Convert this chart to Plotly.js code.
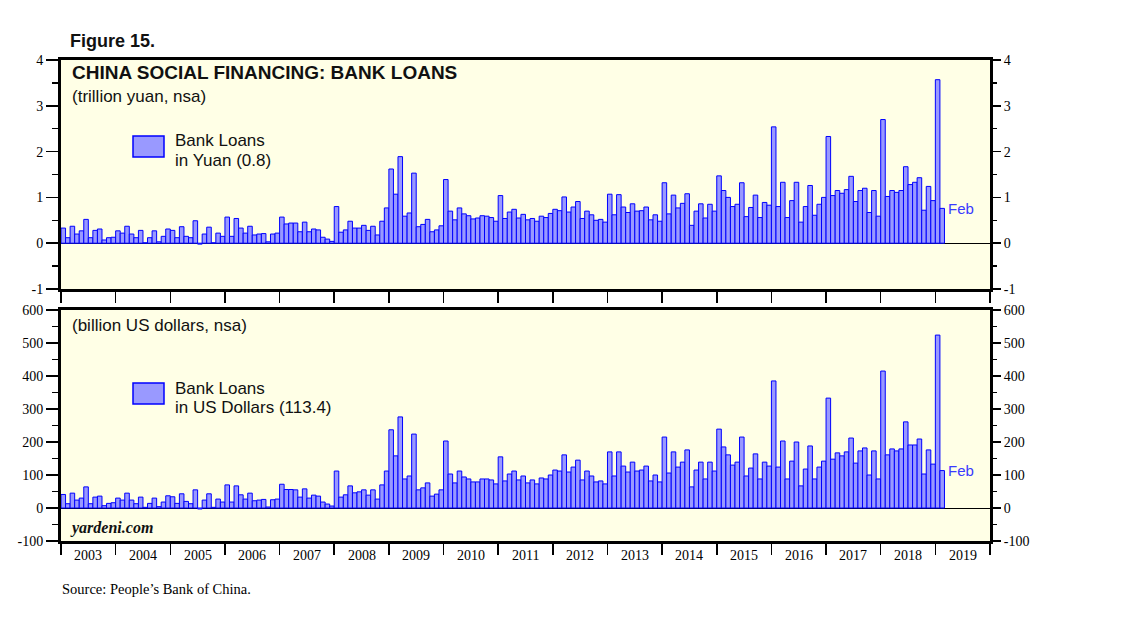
<!DOCTYPE html>
<html>
<head>
<meta charset="utf-8">
<script src="https://cdn.plot.ly/plotly-3.0.1.min.js"></script>
<style>
html,body{margin:0;padding:0;background:#ffffff;}
#chart{width:1138px;height:621px;}
</style>
</head>
<body>
<div id="chart"></div>
<script>
// ---------- DATA ----------
const years = ['2003','2004','2005','2006','2007','2008','2009','2010','2011',
               '2012','2013','2014','2015','2016','2017','2018','2019'];
const latestMonth = 'Feb';

// China social financing: bank loans, trillion yuan, monthly Jan 2003 - Feb 2019
const yuanLoans = [
  0.33,0.12,0.37,0.20,0.27,0.52,0.12,0.28,0.31,0.07,0.12,0.13,   // 2003
  0.27,0.22,0.37,0.20,0.12,0.28,0.01,0.12,0.27,0.03,0.15,0.31,   // 2004
  0.28,0.12,0.36,0.15,0.12,0.49,-0.02,0.20,0.35,0.01,0.22,0.15,  // 2005
  0.57,0.15,0.54,0.33,0.22,0.37,0.18,0.20,0.21,0.03,0.20,0.22,   // 2006
  0.57,0.42,0.44,0.44,0.25,0.46,0.25,0.31,0.29,0.13,0.09,0.04,   // 2007
  0.80,0.24,0.29,0.48,0.33,0.33,0.39,0.28,0.37,0.18,0.48,0.77,   // 2008
  1.62,1.07,1.89,0.59,0.66,1.53,0.36,0.41,0.52,0.25,0.29,0.38,   // 2009
  1.39,0.70,0.51,0.77,0.64,0.60,0.53,0.55,0.60,0.59,0.56,0.48,   // 2010
  1.04,0.54,0.68,0.74,0.55,0.63,0.51,0.54,0.48,0.59,0.56,0.65,   // 2011
  0.74,0.71,1.01,0.68,0.79,0.91,0.54,0.70,0.62,0.50,0.52,0.46,   // 2012
  1.07,0.62,1.06,0.79,0.67,0.86,0.70,0.71,0.79,0.51,0.62,0.48,   // 2013
  1.32,0.64,1.05,0.77,0.87,1.08,0.39,0.70,0.86,0.55,0.85,0.70,   // 2014
  1.47,1.15,1.00,0.80,0.85,1.32,0.58,0.78,1.05,0.56,0.89,0.83,   // 2015
  2.54,0.80,1.33,0.56,0.93,1.33,0.46,0.80,1.26,0.61,0.85,1.00,   // 2016
  2.33,1.04,1.15,1.09,1.17,1.46,0.91,1.15,1.20,0.67,1.15,0.59,   // 2017
  2.70,1.02,1.15,1.11,1.15,1.67,1.28,1.33,1.43,0.72,1.24,0.93,   // 2018
  3.57,0.76                                                      // 2019
];

// Same series in billion US dollars
const usdLoans = [
  41,13,45,24,30,64,13,33,36,7,14,16,          // 2003
  30,24,45,24,13,33,2,14,30,4,18,37,           // 2004
  34,14,43,20,13,55,-3,24,43,2,27,18,          // 2005
  70,18,67,40,27,45,22,24,26,3,25,27,          // 2006
  72,56,56,55,33,58,30,39,36,18,12,6,          // 2007
  112,33,40,67,46,49,55,39,55,27,70,112,       // 2008
  237,158,276,88,97,224,55,61,76,36,42,55,     // 2009
  203,103,76,112,94,88,79,79,88,88,85,73,      // 2010
  155,82,103,112,85,97,76,85,73,91,88,100,     // 2011
  115,112,161,109,124,145,85,112,97,79,82,73,  // 2012
  170,97,170,127,109,139,112,115,127,82,100,79,// 2013
  215,106,170,124,139,176,64,115,139,88,139,112,// 2014
  239,185,161,130,139,215,97,121,164,88,139,127,// 2015
  385,124,203,88,142,200,67,118,188,88,124,142,// 2016
  333,148,167,158,170,212,136,173,182,100,173,88,// 2017
  415,161,179,173,179,261,191,191,209,103,176,133,// 2018
  524,113.4                                    // 2019
];

const yuanTicks = [-1, 0, 1, 2, 3, 4];
const yuanTickText = ['-1', '0', '1', '2', '3', '4'];
const usdTicks = [-100, 0, 100, 200, 300, 400, 500, 600];
const usdTickText = ['-100', '0', '100', '200', '300', '400', '500', '600'];

const legendYuan = ['Bank Loans', 'in Yuan (0.8)'];
const legendUsd  = ['Bank Loans', 'in US Dollars (113.4)'];

// ---------- BUILD ----------
const monthIdx = yuanLoans.map((_, i) => i);
const nMonths = years.length * 12;
const yearBounds = years.map((_, k) => k * 12 - 0.5).concat([nMonths - 0.5]);
const yearCenters = years.map((_, k) => k * 12 + 5.5);
const lastI = yuanLoans.length - 1;

const W = 1138, H = 621;
const M = {l: 61, r: 148, t: 60, b: 80};
const pw = W - M.l - M.r, ph = H - M.t - M.b;
const px = p => (p - M.l) / pw;
const py = p => (H - M.b - p) / ph;

const SANS = 'Liberation Sans, Arial, sans-serif';
const SERIF = 'Liberation Serif, Times New Roman, serif';
const barFill = '#9999ff', barLine = '#0000ff';
const barStyle = {color: barFill, line: {color: barLine, width: 1}};

const traces = [
  {type: 'bar', x: monthIdx, y: yuanLoans, xaxis: 'x', yaxis: 'y', width: 1,
   marker: barStyle, showlegend: false, hoverinfo: 'y'},
  {type: 'bar', x: monthIdx, y: usdLoans, xaxis: 'x2', yaxis: 'y2', width: 1,
   marker: barStyle, showlegend: false, hoverinfo: 'y'},
  {type: 'scatter', mode: 'markers', x: [monthIdx[0]], y: [yuanLoans[0]], xaxis: 'x', yaxis: 'y3',
   marker: {opacity: 0}, showlegend: false, hoverinfo: 'skip'},
  {type: 'scatter', mode: 'markers', x: [monthIdx[0]], y: [usdLoans[0]], xaxis: 'x2', yaxis: 'y4',
   marker: {opacity: 0}, showlegend: false, hoverinfo: 'skip'}
];

const topDom = [py(289), 1];
const botDom = [0, py(310)];

const xCommon = {
  range: [-0.5, nMonths - 0.5], showline: true, linewidth: 3, linecolor: '#000', mirror: true,
  ticks: 'outside', tickmode: 'array', tickvals: yearBounds, tickwidth: 1.5, tickcolor: '#000',
  showticklabels: false, showgrid: false, zeroline: false, fixedrange: true
};
function yAx(range, vals, text, minorStep, ticklen, extra) {
  return Object.assign({
    range: range, tickmode: 'array', tickvals: vals, ticktext: text,
    ticks: 'outside', ticklen: ticklen, tickwidth: 1.5, tickcolor: '#000',
    minor: {tickmode: 'linear', tick0: 0, dtick: minorStep, ticks: 'outside', ticklen: 6, tickwidth: 1.5, tickcolor: '#000'},
    showgrid: false, tickfont: {family: SERIF, size: 14, color: '#000'}, fixedrange: true
  }, extra);
}

const annotations = [];
function txt(text, x, y, size, opts) {
  annotations.push(Object.assign({
    text: text, xref: 'paper', yref: 'paper', x: px(x), y: py(y), xanchor: 'left', yanchor: 'middle',
    showarrow: false, font: {family: SANS, size: size, color: '#111'}
  }, opts || {}));
}
txt('<b>Figure 15.</b>', 68, 41, 18);
txt('<b>CHINA SOCIAL FINANCING: BANK LOANS</b>', 70, 73, 19);
txt('(trillion yuan, nsa)', 70, 96, 17);
txt(legendYuan[0], 173, 141, 17);
txt(legendYuan[1], 173, 160, 17);
txt('(billion US dollars, nsa)', 70, 326, 17);
txt(legendUsd[0], 173, 388, 17);
txt(legendUsd[1], 173, 407, 17);
txt('<b><i>yardeni.com</i></b>', 68, 528, 16, {font: {family: SERIF, size: 16, color: '#111'}});
txt('Source: People\u2019s Bank of China.', 60, 589, 14.5, {font: {family: SERIF, size: 14.5, color: '#000'}});

years.forEach((yr, k) => {
  annotations.push({text: yr, xref: 'x2', yref: 'paper', x: yearCenters[k], y: py(555),
    xanchor: 'center', yanchor: 'middle', showarrow: false,
    font: {family: SERIF, size: 14, color: '#000'}});
});
annotations.push({text: latestMonth, xref: 'x', yref: 'y', x: monthIdx[lastI] + 0.9, y: yuanLoans[lastI],
  xanchor: 'left', yanchor: 'middle', showarrow: false, font: {family: SANS, size: 15, color: '#3a3aff'}});
annotations.push({text: latestMonth, xref: 'x2', yref: 'y2', x: monthIdx[lastI] + 0.9, y: usdLoans[lastI],
  xanchor: 'left', yanchor: 'middle', showarrow: false, font: {family: SANS, size: 15, color: '#3a3aff'}});

const shapes = [
  {type: 'rect', xref: 'paper', yref: 'paper', x0: px(133), x1: px(164), y0: py(157), y1: py(136),
   fillcolor: barFill, line: {color: barLine, width: 1.5}},
  {type: 'rect', xref: 'paper', yref: 'paper', x0: px(133), x1: px(164), y0: py(404), y1: py(383),
   fillcolor: barFill, line: {color: barLine, width: 1.5}}
];

const layout = {
  width: W, height: H, margin: M, paper_bgcolor: '#ffffff', plot_bgcolor: '#ffffe6',
  bargap: 0, showlegend: false,
  xaxis: Object.assign({domain: [0, 1], anchor: 'y', ticklen: 11}, xCommon),
  xaxis2: Object.assign({domain: [0, 1], anchor: 'y2', ticklen: 11}, xCommon),
  yaxis: yAx([-1, 4], yuanTicks, yuanTickText, 0.5, 12, {domain: topDom, anchor: 'x',
    showline: true, linewidth: 3, linecolor: '#000', mirror: true,
    zeroline: true, zerolinecolor: '#000', zerolinewidth: 1}),
  yaxis3: yAx([-1, 4], yuanTicks, yuanTickText, 0.5, 10, {overlaying: 'y', side: 'right', anchor: 'x',
    showline: false, zeroline: false}),
  yaxis2: yAx([-100, 600], usdTicks, usdTickText, 50, 12, {domain: botDom, anchor: 'x2',
    showline: true, linewidth: 3, linecolor: '#000', mirror: true,
    zeroline: true, zerolinecolor: '#000', zerolinewidth: 1}),
  yaxis4: yAx([-100, 600], usdTicks, usdTickText, 50, 10, {overlaying: 'y2', side: 'right', anchor: 'x2',
    showline: false, zeroline: false}),
  annotations: annotations,
  shapes: shapes
};

Plotly.newPlot('chart', traces, layout, {displayModeBar: false, staticPlot: true});
</script>
</body>
</html>
